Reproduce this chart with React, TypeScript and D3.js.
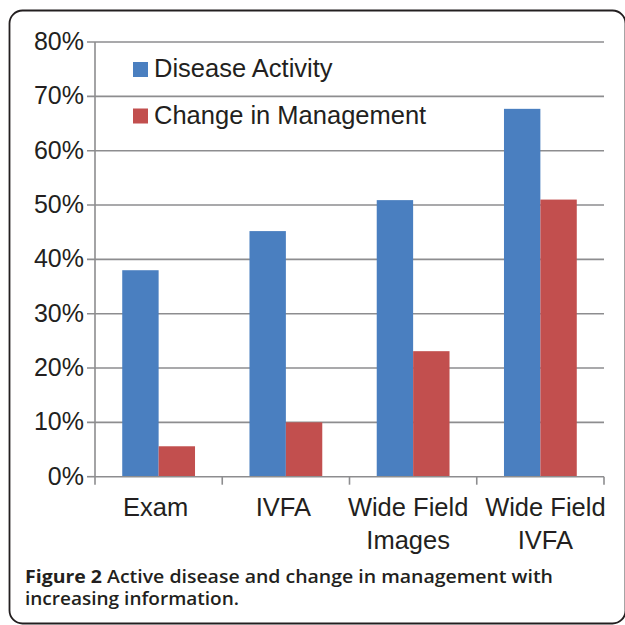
import React from "react";
import * as d3 from "d3";

const categories = [["Exam"], ["IVFA"], ["Wide Field", "Images"], ["Wide Field", "IVFA"]];
const seriesNames = ["Disease Activity", "Change in Management"];
const diseaseActivity = [38.0, 45.2, 50.9, 67.7];
const changeInManagement = [5.6, 10.0, 23.1, 51.0];
const yTicks = [0, 10, 20, 30, 40, 50, 60, 70, 80];
const colors = ["#4a7fc0", "#c24f4e"];

const W = 625;
const H = 625;
const left = 95;
const right = 604;
const top = 42;
const bottom = 476.7;
const ink = "#231f20";
const grid = "#8d8d8f";
const font = "'Liberation Sans', Arial, Helvetica, sans-serif";
// small horizontal nudges of the category labels, as in the source figure
const labelNudge = [-3, -2.5, -5, 5];

export default function App() {
  const keys = categories.map((c) => c.join(" "));
  const values = [diseaseActivity, changeInManagement];

  const x = d3.scaleBand().domain(keys).range([left, right]).paddingInner(0.428).paddingOuter(0.214);
  const x1 = d3.scaleBand().domain(seriesNames).range([0, x.bandwidth()]).padding(0);
  const y = d3.scaleLinear().domain([0, 80]).range([bottom, top]);

  // category boundaries for x-axis ticks
  const step = x.step();
  const boundaries = d3.range(keys.length + 1).map((i) => left + i * step);

  return (
    <svg width={W} height={H} style={{ position: "absolute", left: 0, top: 0, background: "#fff" }}>
      <rect x={9.5} y={10.5} width={616} height={613} rx={13} fill="#fff" stroke={ink} strokeWidth={1.8} />

      {/* gridlines + y labels */}
      {yTicks.map((t) => (
        <g key={t}>
          <line x1={87} x2={t === 0 ? left : right} y1={y(t)} y2={y(t)} stroke={grid} strokeWidth={1.6} />
          <text x={84} y={y(t) + 8} textAnchor="end" fontFamily={font} fontSize={25} fill={ink}>
            {t}%
          </text>
        </g>
      ))}

      {/* bars */}
      {keys.map((k, i) => (
        <g key={k} transform={`translate(${x(k)},0)`}>
          {seriesNames.map((s, j) => (
            <rect
              key={s}
              x={x1(s)}
              y={y(values[j][i])}
              width={x1.bandwidth()}
              height={bottom - y(values[j][i])}
              fill={colors[j]}
            />
          ))}
        </g>
      ))}

      {/* axes */}
      <line x1={left} x2={left} y1={top} y2={bottom} stroke={grid} strokeWidth={1.6} />
      <line x1={left} x2={right} y1={bottom} y2={bottom} stroke={grid} strokeWidth={1.6} />
      {boundaries.map((b, i) => (
        <line key={i} x1={b} x2={b} y1={bottom} y2={bottom + 8} stroke={grid} strokeWidth={1.6} />
      ))}

      {/* category labels */}
      {categories.map((lines, i) => (
        <text key={i} textAnchor="middle" fontFamily={font} fontSize={25.5} fill={ink}>
          {lines.map((l, j) => (
            <tspan key={j} x={(x(keys[i]) as number) + x.bandwidth() / 2 + labelNudge[i]} y={516 + j * 33}>
              {l}
            </tspan>
          ))}
        </text>
      ))}

      {/* legend */}
      {seriesNames.map((s, j) => (
        <g key={s} transform={`translate(133,${62 + j * 46.5})`}>
          <rect x={0} y={0} width={15} height={15} fill={colors[j]} />
          <text x={21} y={15} fontFamily={font} fontSize={25.5} fill={ink}>
            {s}
          </text>
        </g>
      ))}

      {/* caption */}
      <text x={25} y={583} fontFamily="'Open Sans', sans-serif" fontSize={18} fill={ink} textLength={528} lengthAdjust="spacingAndGlyphs">
        <tspan fontWeight={700}>Figure 2</tspan>
        <tspan fontWeight={600}> Active disease and change in management with</tspan>
      </text>
      <text x={25} y={605} fontFamily="'Open Sans', sans-serif" fontSize={18} fontWeight={600} fill={ink} textLength={214} lengthAdjust="spacingAndGlyphs">
        increasing information.
      </text>
    </svg>
  );
}
